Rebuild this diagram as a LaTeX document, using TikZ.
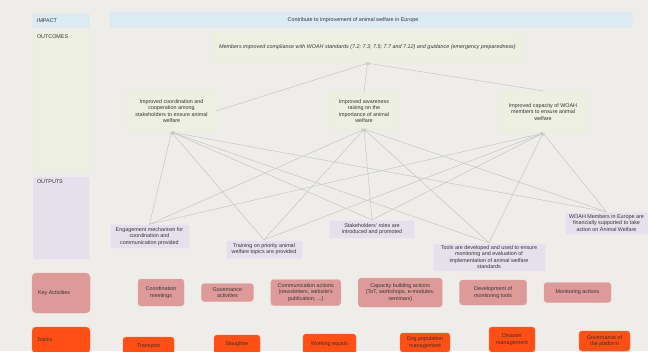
\documentclass[tikz,border=0pt]{standalone}
\usepackage{fontspec}
\setmainfont{Liberation Sans}
\usetikzlibrary{positioning}
\definecolor{bgcol}{HTML}{EEEDE9}
\definecolor{txtcol}{HTML}{353535}
\definecolor{impactfill}{HTML}{DCEBF3}
\definecolor{impactline}{HTML}{D2E6F1}
\definecolor{outcomefill}{HTML}{EDF0E0}
\definecolor{outcomeline}{HTML}{E6EDCC}
\definecolor{outputfill}{HTML}{E4E0EC}
\definecolor{outputline}{HTML}{EBE8F2}
\definecolor{activityfill}{HTML}{DD9A99}
\definecolor{activityline}{HTML}{E4A8A7}
\definecolor{topicfill}{HTML}{FF4F14}
\definecolor{topicline}{HTML}{FF6A38}
\definecolor{linkcol}{HTML}{C6C6C3}

\begin{document}
\begin{tikzpicture}[%
    x=1pt, y=-1pt,
    font=\fontsize{5.4}{6.4}\selectfont,
    text=txtcol,
impactnode/.style={rectangle, align=center, fill=impactfill, draw=impactline, rounded corners=1pt, inner sep=0pt},
outcomenode/.style={rectangle, align=center, fill=outcomefill, draw=outcomeline, rounded corners=4pt, inner sep=0pt},
outputnode/.style={rectangle, align=center, fill=outputfill, draw=outputline, inner sep=0pt},
activitynode/.style={rectangle, align=center, fill=activityfill, draw=activityline, rounded corners=3pt, inner sep=0pt},
topicnode/.style={rectangle, align=center, fill=topicfill, draw=topicline, rounded corners=3pt, inner sep=0pt, text=black!80},
headtext/.style={inner sep=0pt, align=left},
link/.style={->, draw=linkcol, line width=0.5pt}
]

% canvas
\fill[bgcol] (0,0) rectangle (648,351);
\useasboundingbox (0,0) rectangle (648,351);
\clip (0,0) rectangle (648,351);

% left column
\node[impactnode, minimum width=56pt, minimum height=13pt]   (impactcol)   at (61,20.5) {};
\node[headtext]   (impacthead)   [right=4pt of impactcol.west] {IMPACT};

\node[outcomenode, rounded corners=1pt, minimum width=56pt, minimum height=139pt] (outcomescol) at (61,101.5) {};
\node[headtext]   (outcomeshead) [below right=3pt and 4pt of outcomescol.north west] {OUTCOMES};

\node[outputnode, rounded corners=1pt, minimum width=56pt, minimum height=82pt]   (outputscol)  at (61,218) {};
\node[headtext]   (outputshead)  [below right=3pt and 4pt of outputscol.north west] {OUTPUTS};

\node[activitynode, rounded corners=4pt, minimum width=58pt, minimum height=40pt] (keycol) at (61,293) {};
\node[headtext]   (keyhead)      [right=6pt of keycol.west] {Key Activities};

\node[topicnode, rounded corners=4pt, minimum width=58pt, minimum height=26pt]    (topicscol) at (61,340) {};
\node[headtext, text=black!80]   (topicshead)   [right=5pt of topicscol.west] {Topics};

% impact
\node[impactnode, minimum width=522pt, minimum height=15pt] (impact) at (371,19.5) {};
\node[headtext]   (impacttext) at (353,20) {Contribute to improvement  of animal welfare in Europe};

% outcomes
\node[outcomenode, minimum width=309pt, minimum height=31pt, font=\fontsize{5.4}{6.4}\selectfont\itshape] (compliance) at (367.5,47.5) {Members improved compliance with WOAH standards (7.2; 7.3; 7.5; 7.7 and 7.12) and  guidance (emergency preparedness)};

\node[outcomenode, minimum width=89pt, minimum height=42pt] (coordination) at (171.5,111) {Improved coordination and\\ cooperation among\\ stakeholders  to ensure animal\\ welfare};
\node[outcomenode, minimum width=70pt, minimum height=36pt] (awareness)    at (364,111)   {Improved awareness\\ raising on the\\ importance of animal\\ welfare};
\node[outcomenode, minimum width=88pt, minimum height=42pt] (capacity)     at (543,112)   {Improved  capacity of WOAH\\ members to ensure animal\\ welfare};

% outputs
\node[outputnode, minimum width=79pt, minimum height=24pt]  (engagement) at (149.5,236.5) {Engagement  mechanism for\\ coordination and\\ communication  provided};
\node[outputnode, minimum width=76pt, minimum height=18pt]  (training)   at (264,249)     {Training on priority animal\\ welfare topics are provided};
\node[outputnode, minimum width=85pt, minimum height=18pt]  (roles)      at (372,229)     {Stakeholders'  roles are\\ introduced and promoted};
\node[outputnode, minimum width=112pt, minimum height=28pt] (tools)      at (489,257)     {Tools  are developed  and  used to ensure\\ monitoring and evaluation  of\\ implementation  of animal welfare\\ standards};
\node[outputnode, minimum width=83pt, minimum height=22pt]  (funding)    at (606.5,223)   {WOAH Members in Europe are\\ financially supported  to take\\ action on Animal Welfare};

% key activities
\node[activitynode, minimum width=46pt, minimum height=27pt] (meetings) at (161,292.5) {Coordination\\ meetings};
\node[activitynode, minimum width=52pt, minimum height=18pt] (governance) [right=17pt of meetings] {Governance\\ activities};
\node[activitynode, minimum width=70pt, minimum height=26pt] (communication) [right=17pt of governance] {Communication actions\\ (newsletters,  website's\\ publication,  ...)};
\node[activitynode, minimum width=84pt, minimum height=29pt] (capacitybuilding) [right=17pt of communication] {Capacity building actions\\ (ToT,  workshops,  e-modules,\\ seminars)};
\node[activitynode, minimum width=67pt, minimum height=25pt] (development) [right=17pt of capacitybuilding] {Development  of\\ monitoring tools};
\node[activitynode, minimum width=67pt, minimum height=20pt] (monitoring) [right=17pt of development] {Monitoring actions};

% topics
\node[topicnode, minimum width=51pt, minimum height=18pt] (transport) at (148.5,346)  {Transport};
\node[topicnode, minimum width=46pt, minimum height=19pt] (slaughter) at (237,344.5)  {Slaughter};
\node[topicnode, minimum width=53pt, minimum height=20pt] (equids)    at (329.5,344)  {Working equids};
\node[topicnode, minimum width=50pt, minimum height=19pt] (dogs)      at (425,342.5)  {Dog population\\ management};
\node[topicnode, minimum width=46pt, minimum height=25pt] (disaster)  at (512,339.5)  {Disaster\\ management};
\node[topicnode, minimum width=51pt, minimum height=20pt] (platform)  at (604.5,341)  {Governance  of\\ the platform};

% outcome lines
\draw[link] (coordination.east) -- (compliance.south);
\draw[link] (awareness.north) -- (compliance.south);
\draw[link] (capacity.north) -- (compliance.south);

% output lines
\draw[link] (engagement.north) -- (coordination.south);
\draw[link] (engagement.north) -- (awareness.south);
\draw[link] (engagement.north) -- (capacity.south);
\draw[link] (training.north) -- (coordination.south);
\draw[link] (training.north) -- (awareness.south);
\draw[link] (training.north) -- (capacity.south);
\draw[link] (roles.north) -- (coordination.south);
\draw[link] (roles.north) -- (awareness.south);
\draw[link] (roles.north) -- (capacity.south);
\draw[link] (tools.north) -- (coordination.south);
\draw[link] (tools.north) -- (awareness.south);
\draw[link] (tools.north) -- (capacity.south);
\draw[link] (funding.north) -- (coordination.south);
\draw[link] (funding.north) -- (awareness.south);
\draw[link] (funding.north) -- (capacity.south);

\end{tikzpicture}
\end{document}
